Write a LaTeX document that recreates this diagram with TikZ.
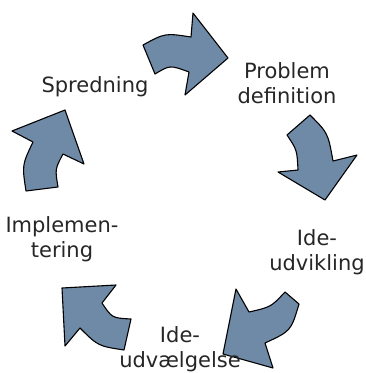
\documentclass[tikz,border=0pt]{standalone}
\usepackage{fontspec}
\setmainfont{DejaVu Sans}
\definecolor{arrowfill}{RGB}{111,138,166}
\begin{document}
\begin{tikzpicture}[x=1pt,y=-1pt,
  cyc/.style={fill=arrowfill,draw=black,line width=1.1pt,line join=round},
  lbl/.style={font=\fontsize{21}{25}\selectfont,align=center,inner sep=0pt,text=black!85}]
\useasboundingbox (0,0) rectangle (365,373);
% arrows
\draw[cyc] (143,45) .. controls (165,33) .. (191,37) -- (193,13) -- (228,58) -- (185,95) -- (189,72) .. controls (170,65) .. (155,74) -- cycle;
\draw[cyc] (287,135) -- (310,115) .. controls (328,133) .. (333,161) -- (357,155) -- (325,200) -- (278,172) -- (298,170) .. controls (297,150) .. (287,135) -- cycle;
\draw[cyc] (285,292) -- (299,304) .. controls (291,331) .. (265,343) -- (273,368) -- (223,354) -- (236,289) -- (249,312) .. controls (271,307) .. (285,292) -- cycle;
\draw[cyc] (62,288) -- (116,285) -- (102,303) .. controls (112,318) .. (131,319) -- (124,350) .. controls (98,346) .. (80,328) -- (65,346) -- cycle;
\draw[cyc] (26,191) -- (58,187) .. controls (55,169) .. (63,154) -- (84,164) -- (65,110) -- (12,131) -- (33,142) .. controls (22,165) .. (26,191) -- cycle;
% labels
\node[lbl,anchor=base] (spr) at (95,92) {Spredning};
\node[lbl,anchor=base] (prob) at (287,103) {Problem\\definition};
\node[lbl,anchor=base] (udv) at (317,270) {Ide-\\udvikling};
\node[lbl,anchor=base] (impl) at (62,257) {Implemen-\\tering};
\node[lbl,anchor=base] (valg) at (180,367) {Ide-\\udvælgelse};
\end{tikzpicture}
\end{document}
